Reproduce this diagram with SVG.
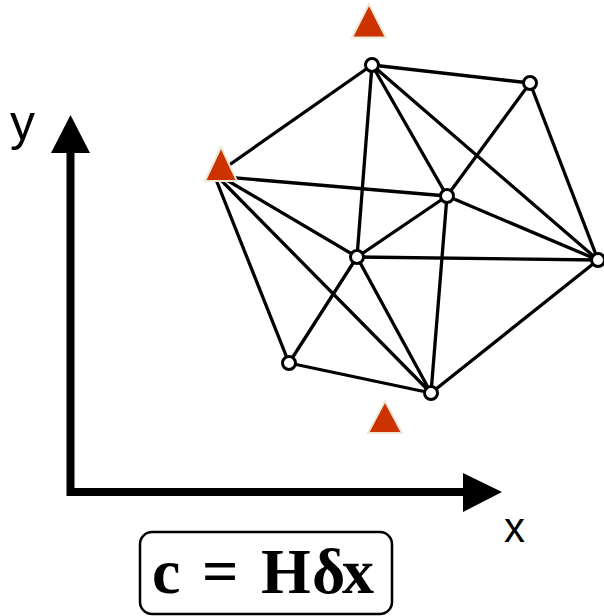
<svg xmlns="http://www.w3.org/2000/svg" width="604" height="616" viewBox="0 0 604 616">
<style>
.edge{stroke:#000;stroke-width:3.3;fill:none;stroke-linecap:round}
.node{fill:#fff;stroke:#000;stroke-width:3}
.tri{fill:#cc3300;stroke:#ede8d6;stroke-width:2;stroke-linejoin:miter}
.axis{stroke:#000;stroke-width:8;fill:none}
.lbl{font-family:"Liberation Sans",Arial,sans-serif;fill:#000}
.eq{font-family:"Liberation Serif","Times New Roman",serif;font-weight:bold;font-size:64px;fill:#000}
</style>
<g id="axes">
<polyline class="axis" points="70.5,150 70.5,492 466,492"/>
<polygon points="70.5,115 51,153 90,153" fill="#000"/>
<polygon points="502,492 463,473 463,512" fill="#000"/>
<text class="lbl" x="10" y="140" font-size="50">y</text>
<text class="lbl" x="504" y="542" font-size="42">x</text>
</g>
<g id="connectors">
<line class="edge" x1="222" y1="170" x2="372" y2="65"/>
<line class="edge" x1="213" y1="176" x2="447" y2="196"/>
<line class="edge" x1="213" y1="172" x2="357" y2="257"/>
<line class="edge" x1="213" y1="172" x2="289" y2="363"/>
<line class="edge" x1="213" y1="172" x2="431" y2="393"/>
<line class="edge" x1="372" y1="65" x2="530" y2="83"/>
<line class="edge" x1="372" y1="65" x2="447" y2="196"/>
<line class="edge" x1="372" y1="65" x2="357" y2="257"/>
<line class="edge" x1="372" y1="65" x2="598" y2="260"/>
<line class="edge" x1="530" y1="83" x2="447" y2="196"/>
<line class="edge" x1="530" y1="83" x2="598" y2="260"/>
<line class="edge" x1="447" y1="196" x2="357" y2="257"/>
<line class="edge" x1="447" y1="196" x2="598" y2="260"/>
<line class="edge" x1="447" y1="196" x2="431" y2="393"/>
<line class="edge" x1="357" y1="257" x2="598" y2="260"/>
<line class="edge" x1="357" y1="257" x2="289" y2="363"/>
<line class="edge" x1="357" y1="257" x2="431" y2="393"/>
<line class="edge" x1="289" y1="363" x2="431" y2="393"/>
<line class="edge" x1="431" y1="393" x2="598" y2="260"/>
</g>
<g id="nA"><circle class="node" cx="372" cy="65" r="6.5"/></g>
<g id="nB"><circle class="node" cx="530" cy="83" r="6.5"/></g>
<g id="nC"><circle class="node" cx="447" cy="196" r="6.5"/></g>
<g id="nD"><circle class="node" cx="357" cy="257" r="6.5"/></g>
<g id="nE"><circle class="node" cx="598" cy="260" r="6.5"/></g>
<g id="nF"><circle class="node" cx="289" cy="363" r="6.5"/></g>
<g id="nG"><circle class="node" cx="431" cy="393" r="6.5"/></g>
<g id="tLeft"><polygon class="tri" points="221,147 205,181 237,181"/></g>
<g id="tTop"><polygon class="tri" points="369,4 352,37.5 386,37.5"/></g>
<g id="tBottom"><polygon class="tri" points="385,401 368,433 402,433"/></g>
<g id="formula">
<rect x="140" y="532" width="252" height="82" rx="12" ry="12" fill="#fff" stroke="#000" stroke-width="2.5"/>
<text class="eq" y="593"><tspan x="152">c</tspan><tspan x="202">=</tspan><tspan x="261">H</tspan><tspan x="312">δ</tspan><tspan x="342">x</tspan></text>
</g>
</svg>
